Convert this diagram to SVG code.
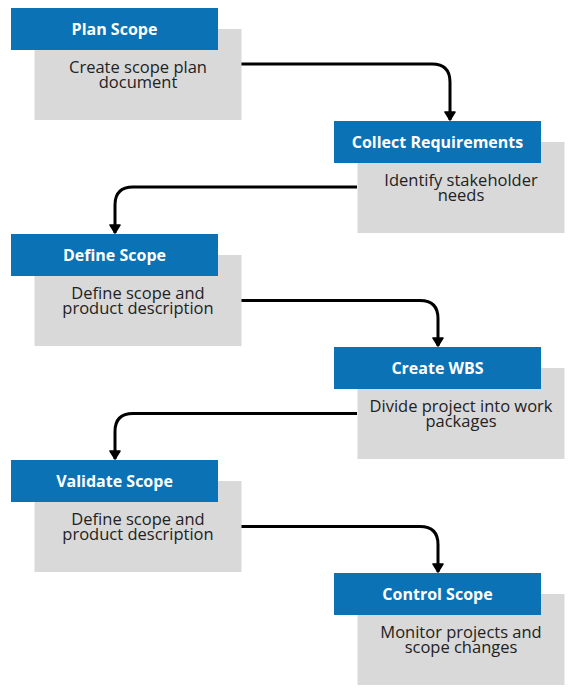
<svg xmlns="http://www.w3.org/2000/svg" width="571" height="692" viewBox="0 0 571 692">
<defs>
<style>
.hd{fill:#0B72B5;}
.bd{fill:#D9D9D9;}
.t{font-family:"Open Sans","Liberation Sans",sans-serif;font-weight:bold;font-size:16px;fill:#ffffff;text-anchor:middle;}
.b{font-family:"Open Sans","Liberation Sans",sans-serif;font-size:16.5px;fill:#222222;text-anchor:middle;}
.c{fill:none;stroke:#000;stroke-width:3;}
</style>
<marker id="ah" viewBox="0 0 10 12" refX="9" refY="6" markerWidth="10" markerHeight="12" markerUnits="userSpaceOnUse" orient="auto">
<path d="M1,1 L9,6 L1,11 Z" fill="#000" stroke="#000" stroke-width="1.5" stroke-linejoin="round"/>
</marker>
</defs>
<rect width="571" height="692" fill="#ffffff"/>
<g id="connectors">
<path class="c" d="M241,64 H432 Q450,64 450,82 V120" marker-end="url(#ah)"/>
<path class="c" d="M357,187 H133 Q115,187 115,205 V233" marker-end="url(#ah)"/>
<path class="c" d="M241,300.5 H420 Q438,300.5 438,318.5 V346" marker-end="url(#ah)"/>
<path class="c" d="M357,413.5 H133 Q115,413.5 115,431.5 V459" marker-end="url(#ah)"/>
<path class="c" d="M241,526.5 H420 Q438,526.5 438,544.5 V572" marker-end="url(#ah)"/>
</g>
<g id="plan-scope">
<rect class="bd" x="34.5" y="29" width="207" height="91"/>
<rect class="hd" x="11" y="8" width="207" height="42"/>
<text class="t" x="114.5" y="35">Plan Scope</text>
<text class="b" x="138" y="73">Create scope plan</text>
<text class="b" x="138" y="88">document</text>
</g>
<g id="collect-requirements">
<rect class="bd" x="357.5" y="142" width="207" height="91"/>
<rect class="hd" x="334" y="121" width="207" height="42"/>
<text class="t" x="437.5" y="148">Collect Requirements</text>
<text class="b" x="461" y="186">Identify stakeholder</text>
<text class="b" x="461" y="201">needs</text>
</g>
<g id="define-scope">
<rect class="bd" x="34.5" y="255" width="207" height="91"/>
<rect class="hd" x="11" y="234" width="207" height="42"/>
<text class="t" x="114.5" y="261">Define Scope</text>
<text class="b" x="138" y="299">Define scope and</text>
<text class="b" x="138" y="314">product description</text>
</g>
<g id="create-wbs">
<rect class="bd" x="357.5" y="368" width="207" height="91"/>
<rect class="hd" x="334" y="347" width="207" height="42"/>
<text class="t" x="437.5" y="374">Create WBS</text>
<text class="b" x="461" y="412">Divide project into work</text>
<text class="b" x="461" y="427">packages</text>
</g>
<g id="validate-scope">
<rect class="bd" x="34.5" y="481" width="207" height="91"/>
<rect class="hd" x="11" y="460" width="207" height="42"/>
<text class="t" x="114.5" y="487">Validate Scope</text>
<text class="b" x="138" y="525">Define scope and</text>
<text class="b" x="138" y="540">product description</text>
</g>
<g id="control-scope">
<rect class="bd" x="357.5" y="594" width="207" height="91"/>
<rect class="hd" x="334" y="573" width="207" height="42"/>
<text class="t" x="437.5" y="600">Control Scope</text>
<text class="b" x="461" y="638">Monitor projects and</text>
<text class="b" x="461" y="653">scope changes</text>
</g>
</svg>
